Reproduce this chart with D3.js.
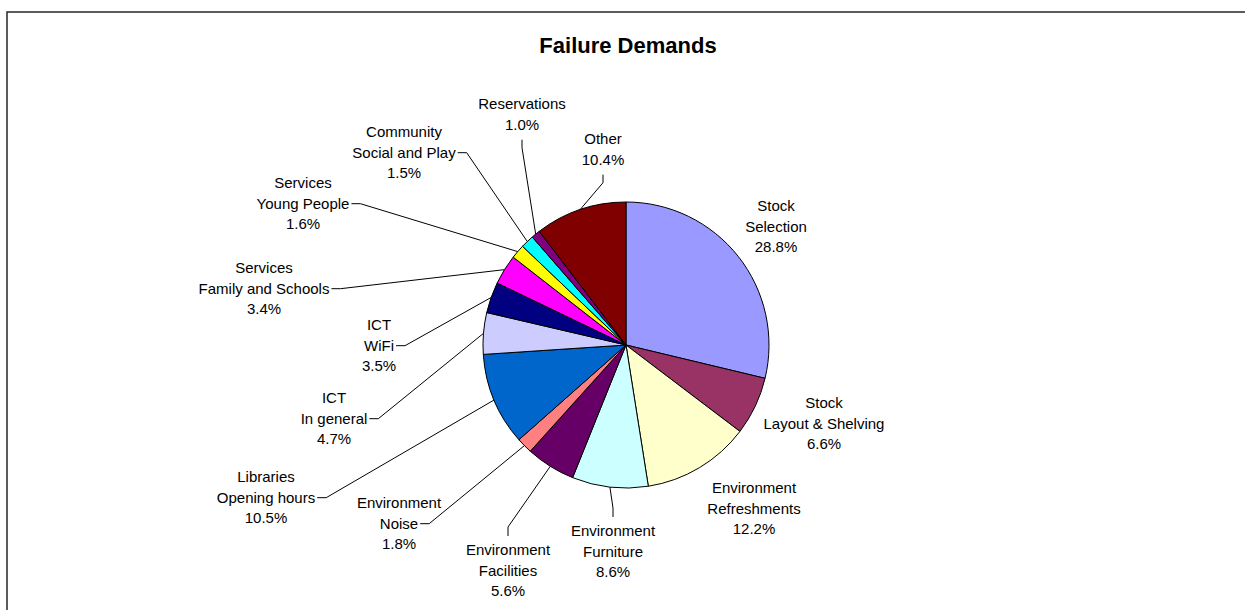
<!DOCTYPE html>
<html>
<head>
<meta charset="utf-8">
<script src="https://cdn.jsdelivr.net/npm/d3@7"></script>
<style>
  body { margin: 0; background: #fff; }
  svg { display: block; font-family: "Liberation Sans", Arial, sans-serif; }
</style>
</head>
<body>
<div id="chart"></div>
<script>
// data, clockwise from 12 o'clock
var categories = [
  ["Stock", "Selection"],
  ["Stock", "Layout & Shelving"],
  ["Environment", "Refreshments"],
  ["Environment", "Furniture"],
  ["Environment", "Facilities"],
  ["Environment", "Noise"],
  ["Libraries", "Opening hours"],
  ["ICT", "In general"],
  ["ICT", "WiFi"],
  ["Services", "Family and Schools"],
  ["Services", "Young People"],
  ["Community", "Social and Play"],
  ["Reservations"],
  ["Other"]
]
var values = [28.8, 6.6, 12.2, 8.6, 5.6, 1.8, 10.5, 4.7, 3.5, 3.4, 1.6, 1.5, 1.0, 10.4]
var colors = ["#9999ff", "#993366", "#ffffcc", "#ccffff", "#660066", "#ff8080", "#0066cc",
              "#ccccff", "#000080", "#ff00ff", "#ffff00", "#00ffff", "#800080", "#800000"]

// label layout: text centre x, first line baseline y, where the leader attaches
var labelPos = [
  {x: 776, y: 211, side: "none"},
  {x: 824, y: 408, side: "none"},
  {x: 754, y: 493, side: "none"},
  {x: 613, y: 536, side: "top"},
  {x: 508, y: 555, side: "top"},
  {x: 399, y: 508, side: "right"},
  {x: 266, y: 482, side: "right"},
  {x: 334, y: 403, side: "right"},
  {x: 379, y: 330, side: "right"},
  {x: 264, y: 273, side: "right"},
  {x: 303, y: 188, side: "right"},
  {x: 404, y: 137, side: "right"},
  {x: 522, y: 109, side: "bottom"},
  {x: 603, y: 144, side: "bottom"}
]

var W = 1245, H = 610
var cx = 626, cy = 345, r = 143
var lineH = 20.7
var fs = 15

var svg = d3.select("#chart").append("svg")
    .attr("width", W)
    .attr("height", H)

// chart border
svg.append("rect")
    .attr("x", 7).attr("y", 12)
    .attr("width", W + 20).attr("height", H + 20)
    .attr("fill", "#fff")
    .attr("stroke", "#333")
    .attr("stroke-width", 1.6)

svg.append("text")
    .attr("x", 628).attr("y", 53)
    .attr("text-anchor", "middle")
    .style("font-size", "22px")
    .style("font-weight", "bold")
    .text("Failure Demands")

var pie = d3.pie().sort(null).value(d => d)
var arcs = pie(values)
var arc = d3.arc().innerRadius(0).outerRadius(r)

var g = svg.append("g").attr("transform", "translate(" + cx + "," + cy + ")")
g.selectAll("path")
    .data(arcs)
    .enter()
    .append("path")
    .attr("d", arc)
    .attr("fill", (d, i) => colors[i])
    .attr("stroke", "#000")
    .attr("stroke-width", 1)

// labels + leader lines
var measure = svg.append("text").style("font-size", fs + "px")
arcs.forEach(function(a, i) {
  var p = labelPos[i]
  var lines = categories[i].concat([values[i].toFixed(1) + "%"])
  var t = svg.append("text")
      .attr("text-anchor", "middle")
      .style("font-size", fs + "px")
      .attr("fill", "#000")
  lines.forEach(function(s, k) {
    t.append("tspan").attr("x", p.x).attr("y", p.y + k * lineH).text(s)
  })

  if (p.side === "none") return
  var mid = (a.startAngle + a.endAngle) / 2
  var ex = cx + Math.sin(mid) * r
  var ey = cy - Math.cos(mid) * r
  var pts
  if (p.side === "right") {
    var k = categories[i].length - 1
    measure.text(lines[k])
    var w = measure.node().getComputedTextLength()
    var sx = p.x + w / 2 + 2
    var sy = p.y + k * lineH - 5
    pts = [[sx, sy], [sx + 9, sy], [ex, ey]]
  } else if (p.side === "top") {
    var sy2 = p.y - 19
    pts = [[p.x, sy2], [p.x, sy2 - 9], [ex, ey]]
  } else {
    var sy3 = p.y + (lines.length - 1) * lineH + 10
    pts = [[p.x, sy3], [p.x, sy3 + 8], [ex, ey]]
  }
  svg.append("path")
      .attr("d", d3.line()(pts))
      .attr("fill", "none")
      .attr("stroke", "#000")
      .attr("stroke-width", 1)
})
measure.remove()
</script>
</body>
</html>
